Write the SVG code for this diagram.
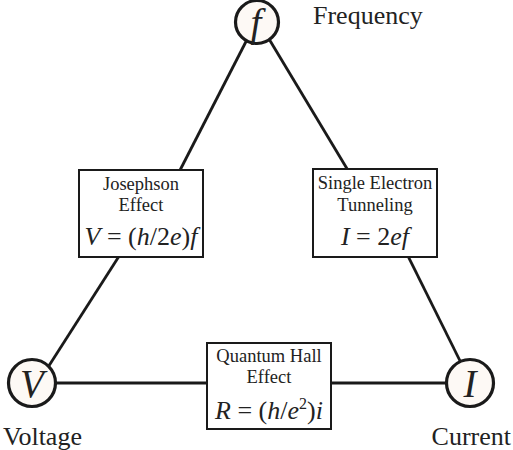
<svg xmlns="http://www.w3.org/2000/svg" width="513" height="450" viewBox="0 0 513 450">
<style>
.edge{stroke:#1a1a1a;stroke-width:2.8;fill:none}
.circ{fill:#fdf9f5;stroke:#1a1a1a;stroke-width:3.2}
.box{fill:#ffffff;stroke:#1a1a1a;stroke-width:2}
.lbl{font-family:"Liberation Serif","Times New Roman",serif;font-size:18.5px;fill:#222;text-anchor:middle}
.eq{font-family:"Liberation Serif","Times New Roman",serif;font-size:26px;fill:#222;text-anchor:middle}
.sym{font-family:"Liberation Serif","Times New Roman",serif;font-size:39px;font-style:italic;fill:#222;text-anchor:middle}
.name{font-family:"Liberation Serif","Times New Roman",serif;font-size:26px;fill:#222}
</style>
<rect width="513" height="450" fill="#ffffff"/>
<g id="connectors">
<line class="edge" x1="254" y1="26" x2="176" y2="178"/>
<line class="edge" x1="123" y1="250" x2="36" y2="386"/>
<line class="edge" x1="260" y1="24" x2="352" y2="177"/>
<line class="edge" x1="405" y1="250" x2="472" y2="385"/>
<line class="edge" x1="32" y1="383" x2="470" y2="383"/>
</g>
<g id="node-f">
<circle class="circ" cx="257" cy="22" r="21.5"/>
<text class="sym" x="256" y="36">f</text>
<text class="name" x="313" y="24">Frequency</text>
</g>
<g id="node-V">
<circle class="circ" cx="32" cy="383" r="23.5"/>
<text class="sym" x="32" y="397">V</text>
<text class="name" x="3" y="445">Voltage</text>
</g>
<g id="node-I">
<circle class="circ" cx="470" cy="383" r="23.5"/>
<text class="sym" x="470" y="397">I</text>
<text class="name" x="511" y="445" text-anchor="end" font-size="25.5">Current</text>
</g>
<g id="josephson">
<rect class="box" x="79" y="170" width="124" height="87"/>
<text class="lbl" x="141" y="190">Josephson</text>
<text class="lbl" x="141" y="211">Effect</text>
<text class="eq" x="141" y="245"><tspan font-style="italic">V</tspan> = (<tspan font-style="italic">h</tspan>/2<tspan font-style="italic">e</tspan>)<tspan font-style="italic">f</tspan></text>
</g>
<g id="set">
<rect class="box" x="313" y="169" width="124" height="88"/>
<text class="lbl" x="375" y="189">Single Electron</text>
<text class="lbl" x="375" y="211">Tunneling</text>
<text class="eq" x="375" y="245"><tspan font-style="italic">I</tspan> = 2<tspan font-style="italic">ef</tspan></text>
</g>
<g id="qhe">
<rect class="box" x="207" y="343" width="124" height="86"/>
<text class="lbl" x="269" y="362">Quantum Hall</text>
<text class="lbl" x="269" y="383">Effect</text>
<text class="eq" x="269" y="419"><tspan font-style="italic">R</tspan> = (<tspan font-style="italic">h</tspan>/<tspan font-style="italic">e</tspan><tspan font-size="16" dy="-10">2</tspan><tspan dy="10">)</tspan><tspan font-style="italic">i</tspan></text>
</g>
</svg>
